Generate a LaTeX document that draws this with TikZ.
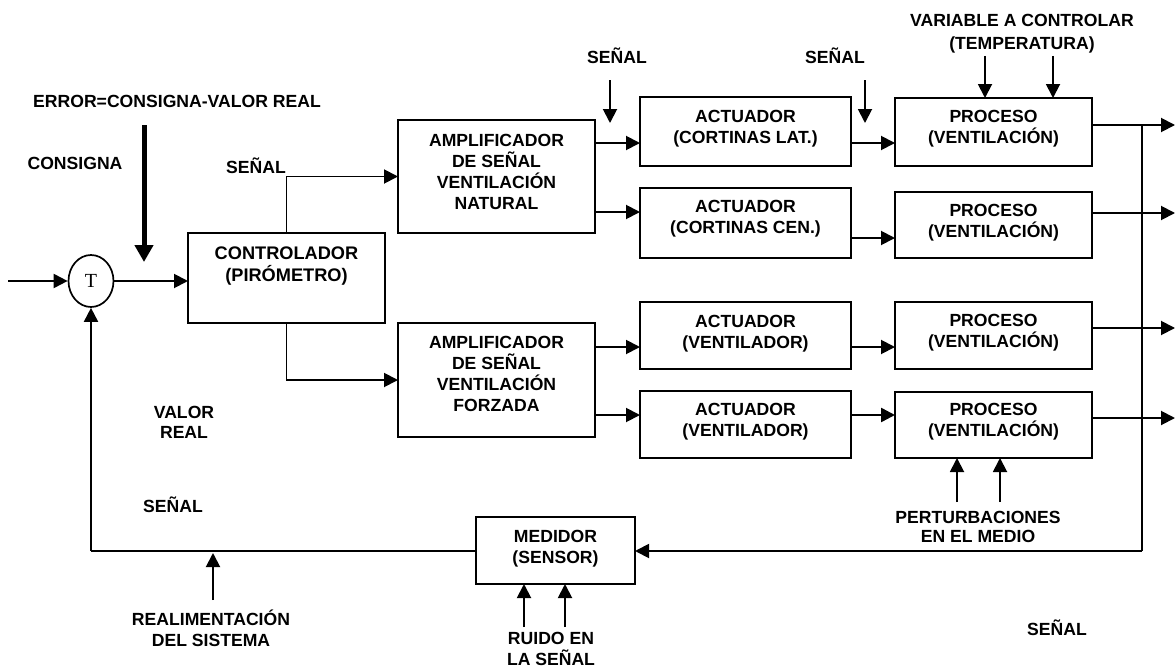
\documentclass[tikz,border=0pt]{standalone}
\usepackage{fontspec}
\setmainfont{Liberation Sans}
\newfontfamily\tfont{Liberation Serif}
\usetikzlibrary{arrows.meta,shapes.geometric}
\begin{document}
\begin{tikzpicture}[x=1pt,y=-1pt,
  box/.style={draw, line width=2pt, inner sep=0pt, outer sep=0pt},
  txt/.style={font=\fontsize{17.6}{21}\selectfont\bfseries, align=center, inner sep=0pt},
  conn/.style={line width=1.9pt, -{Triangle[length=14pt,width=14pt]}},
  wire/.style={line width=1.9pt},
  bigarrow/.style={line width=5pt, -{Triangle[length=17pt,width=18pt]}}]
\useasboundingbox (0,0) rectangle (1175,669);

% boxes
\node[box, minimum width=197pt, minimum height=90pt] (ctrl) at (286.5,278) {};
\node[box, minimum width=197pt, minimum height=113pt] (amp1) at (496.5,176.5) {};
\node[box, minimum width=197pt, minimum height=114pt] (amp2) at (496.5,380) {};
\node[box, minimum width=211pt, minimum height=69pt] (act1) at (745.5,131.5) {};
\node[box, minimum width=211pt, minimum height=70pt] (act2) at (745.5,223) {};
\node[box, minimum width=211pt, minimum height=67pt] (act3) at (745.5,335.5) {};
\node[box, minimum width=211pt, minimum height=67pt] (act4) at (745.5,424.5) {};
\node[box, minimum width=197pt, minimum height=68pt] (proc1) at (993.5,132) {};
\node[box, minimum width=197pt, minimum height=66pt] (proc2) at (993.5,225) {};
\node[box, minimum width=197pt, minimum height=67pt] (proc3) at (993.5,335.5) {};
\node[box, minimum width=197pt, minimum height=66pt] (proc4) at (993.5,425) {};
\node[box, minimum width=159pt, minimum height=67pt] (med) at (555.5,550.5) {};
\node[draw, ellipse, line width=1.7pt, minimum width=45pt, minimum height=52pt, inner sep=0pt,
      font=\tfont\fontsize{20}{20}\selectfont] (sum) at (91,281) {T};

% box texts
\node[txt, font=\fontsize{18.2}{22}\selectfont\bfseries] (ctrl-t) at (286.5,266) {CONTROLADOR\\(PIRÓMETRO)};
\node[txt] (amp1-t) at (496.5,171.5) {AMPLIFICADOR\\DE SEÑAL\\VENTILACIÓN\\NATURAL};
\node[txt] (amp2-t) at (496.5,374) {AMPLIFICADOR\\DE SEÑAL\\VENTILACIÓN\\FORZADA};
\node[txt] (act1-t) at (745.5,129) {ACTUADOR\\(CORTINAS LAT.)};
\node[txt] (act2-t) at (745.5,219) {ACTUADOR\\(CORTINAS CEN.)};
\node[txt] (act3-t) at (745.5,333.5) {ACTUADOR\\(VENTILADOR)};
\node[txt] (act4-t) at (745.5,421.5) {ACTUADOR\\(VENTILADOR)};
\node[txt] (proc1-t) at (993.5,129) {PROCESO\\(VENTILACIÓN)};
\node[txt] (proc2-t) at (993.5,223) {PROCESO\\(VENTILACIÓN)};
\node[txt] (proc3-t) at (993.5,332.5) {PROCESO\\(VENTILACIÓN)};
\node[txt] (proc4-t) at (993.5,422) {PROCESO\\(VENTILACIÓN)};
\node[txt] (med-t) at (555.5,548.5) {MEDIDOR\\(SENSOR)};

% free labels
\node[txt] (lerr) at (177,101) {ERROR=CONSIGNA-VALOR REAL};
\node[txt] (lcons) at (75,163) {CONSIGNA};
\node[txt] (lsen1) at (256,166) {SEÑAL};
\node[txt] (lsen2) at (617,56) {SEÑAL};
\node[txt] (lsen3) at (835,56) {SEÑAL};
\node[txt, font=\fontsize{17.6}{23}\selectfont\bfseries] (lvar) at (1022,33.5) {VARIABLE A CONTROLAR\\(TEMPERATURA)};
\node[txt, font=\fontsize{17.6}{20}\selectfont\bfseries] (lval) at (184,422) {VALOR\\REAL};
\node[txt] (lsen4) at (173,505) {SEÑAL};
\node[txt] (lreal) at (211,628) {REALIMENTACIÓN\\DEL SISTEMA};
\node[txt] (lruido) at (551,648.5) {RUIDO EN\\LA SEÑAL};
\node[txt, font=\fontsize{17.6}{19}\selectfont\bfseries] (lpert) at (978,526.5) {PERTURBACIONES\\EN EL MEDIO};
\node[txt] (lsen5) at (1057,628) {SEÑAL};

% level coordinates
\coordinate (ya1) at (0,143);
\coordinate (ya2) at (0,212);
\coordinate (yp2) at (0,238);
\coordinate (ya3) at (0,347);
\coordinate (ya4) at (0,415);
\coordinate (out1) at (1175,125);
\coordinate (out2) at (1175,213);
\coordinate (out3) at (1175,328);
\coordinate (out4) at (1175,418);
\coordinate (bustop) at (1142,125);
\coordinate (busbot) at (1142,551);
\coordinate (fbc) at (91,551);
\coordinate (in) at (8,281);
\coordinate (cons0) at (144,125);
\coordinate (cons1) at (144,262);

% main signal path
\draw[conn] (in) -- (sum);
\draw[conn] (sum) -- (sum -| ctrl.west);
\draw[bigarrow] (cons0) -- (cons1);
\draw[conn] (ctrl.north) |- (amp1.west);
\draw[conn] (ctrl.south) |- (amp2.west);
\draw[conn] (amp1.east |- ya1) -- (act1.west |- ya1);
\draw[conn] (amp1.east |- ya2) -- (act2.west |- ya2);
\draw[conn] (amp2.east |- ya3) -- (act3.west |- ya3);
\draw[conn] (amp2.east |- ya4) -- (act4.west |- ya4);
\draw[conn] (act1.east |- ya1) -- (proc1.west |- ya1);
\draw[conn] (act2.east |- yp2) -- (proc2.west |- yp2);
\draw[conn] (act3.east |- ya3) -- (proc3.west |- ya3);
\draw[conn, line width=2.5pt] (act4.east |- ya4) -- (proc4.west |- ya4);
\draw[conn] (proc1.east |- out1) -- (out1);
\draw[conn] (proc2.east |- out2) -- (out2);
\draw[conn] (proc3.east |- out3) -- (out3);
\draw[conn] (proc4.east |- out4) -- (out4);

% feedback
\draw[wire] (bustop) -- (busbot);
\draw[conn] (busbot) -- (med.east |- busbot);
\draw[wire] (med.west |- fbc) -- (fbc);
\draw[conn] (fbc) -- (sum.south);

% small input arrows
\coordinate (s1) at (610,80);
\coordinate (s2) at (865,80);
\draw[conn] (s1) -- (610,123);
\draw[conn] (s2) -- (865,123);
\coordinate (v1) at (985,56);
\coordinate (v2) at (1053,56);
\draw[conn] (v1) -- (v1 |- proc1.north);
\draw[conn] (v2) -- (v2 |- proc1.north);
\coordinate (p1) at (957,502);
\coordinate (p2) at (1000,502);
\draw[conn] (p1) -- (p1 |- proc4.south);
\draw[conn] (p2) -- (p2 |- proc4.south);
\coordinate (r1) at (524,627);
\coordinate (r2) at (565,627);
\draw[conn] (r1) -- (r1 |- med.south);
\draw[conn] (r2) -- (r2 |- med.south);
\coordinate (f1) at (213,600);
\coordinate (f2) at (213,553);
\draw[conn] (f1) -- (f2);
\end{tikzpicture}
\end{document}
